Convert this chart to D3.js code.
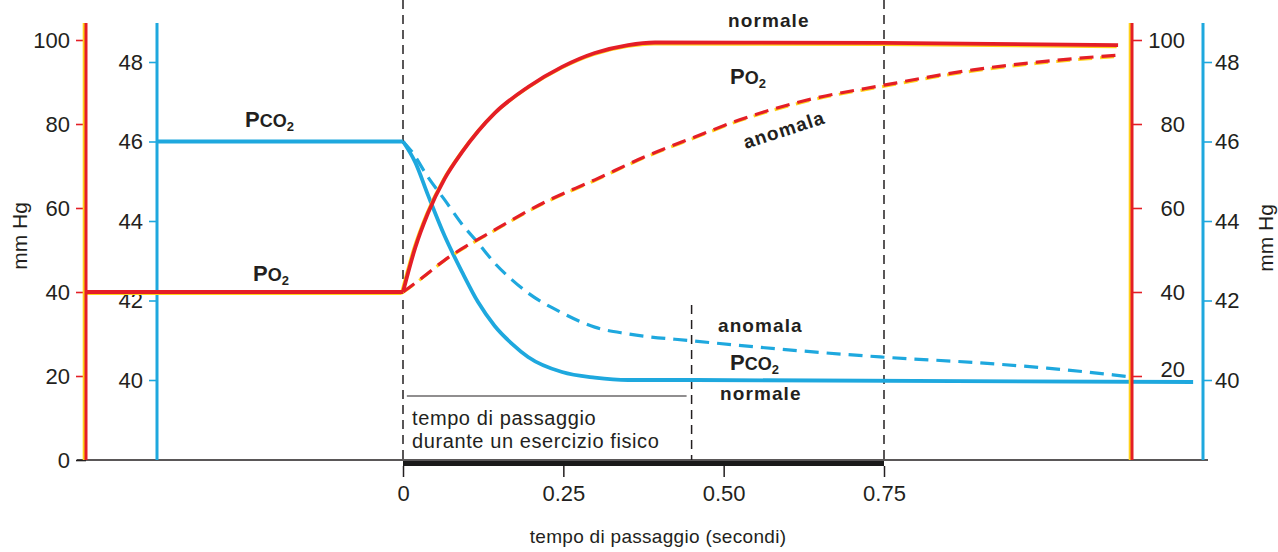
<!DOCTYPE html>
<html>
<head>
<meta charset="utf-8">
<script src="https://cdn.jsdelivr.net/npm/d3@7/dist/d3.min.js"></script>
<style>
  html, body { margin: 0; padding: 0; background: #fff; }
  svg { display: block; font-family: "Liberation Sans", Arial, Helvetica, sans-serif; }
</style>
</head>
<body>
<svg id="chart" width="1278" height="552"></svg>
<script>
// Tempo di passaggio in secondi; pressioni parziali in mm Hg
const timeTicks = [0, 0.25, 0.50, 0.75];
const po2Ticks = [0, 20, 40, 60, 80, 100];
const pco2Ticks = [40, 42, 44, 46, 48];

// PO2 normale (rosso continuo), con il tratto venoso prima dell'ingresso nel capillare
const po2Normale = [
  [-0.494, 40], [0, 40], [0.019, 50.5], [0.039, 58.8], [0.065, 67.0], [0.092, 73.3],
  [0.143, 82.6], [0.195, 88.8], [0.248, 93.6], [0.299, 96.9], [0.351, 98.8],
  [0.393, 99.4], [0.75, 99.3], [1.115, 98.8]
];
// PO2 anomala (rosso tratteggiato)
const po2Anomala = [
  [0, 40], [0.019, 42.1], [0.065, 47.6], [0.143, 54.8], [0.221, 61.4], [0.299, 66.7],
  [0.377, 72.2], [0.455, 76.9], [0.525, 81.0], [0.630, 85.7], [0.752, 89.3],
  [0.889, 92.9], [0.993, 94.8], [1.115, 96.4]
];
// PCO2 normale (blu continuo)
const pco2Normale = [
  [-0.384, 46], [0, 46], [0.019, 45.48], [0.039, 44.65], [0.065, 43.62], [0.092, 42.72],
  [0.117, 41.96], [0.143, 41.36], [0.170, 40.91], [0.195, 40.58], [0.248, 40.20],
  [0.299, 40.06], [0.351, 40.0], [0.455, 40.0], [1.232, 39.95]
];
// PCO2 anomala (blu tratteggiato)
const pco2Anomala = [
  [0, 46], [0.014, 45.74], [0.039, 45.1], [0.065, 44.53], [0.092, 43.92], [0.117, 43.45],
  [0.143, 42.94], [0.170, 42.52], [0.195, 42.19], [0.248, 41.69], [0.299, 41.33],
  [0.351, 41.16], [0.455, 40.98], [0.744, 40.58], [0.900, 40.43], [1.004, 40.30],
  [1.107, 40.13], [1.134, 40.08]
];
// Fine del tempo di passaggio durante l'esercizio fisico
const exerciseTransit = 0.45;

const RED = "#e41e26", YELLOW = "#ffd21a", BLUE = "#1ea8de", INK = "#231f20";

const svg = d3.select("#chart");

const x = d3.scaleLinear().domain([0, 0.75]).range([403, 884]);
const yR = d3.scaleLinear().domain([0, 100]).range([460, 40]);
const yB = d3.scaleLinear().domain([40, 48]).range([380, 62]);

const axisX = { redL: 86, blueL: 157, redR: 1132, blueR: 1203 };
const axisTop = 23, axisBottom = 460;

// linea di base
svg.append("line").attr("x1", 77).attr("x2", 1208).attr("y1", 460).attr("y2", 460)
  .attr("stroke", INK).attr("stroke-width", 1.3);

// barra spessa del tempo di passaggio a riposo
svg.append("rect").attr("x", x(0)).attr("y", 461).attr("width", x(0.75) - x(0)).attr("height", 5)
  .attr("fill", "#1a1a1a");

// asse orizzontale
const gx = svg.append("g").attr("transform", "translate(0,466)")
  .call(d3.axisBottom(x).tickValues(timeTicks).tickSize(11).tickPadding(8)
    .tickFormat(d => d === 0 ? "0" : d3.format(".2f")(d)));
gx.select(".domain").remove();
gx.selectAll(".tick line").attr("stroke", INK).attr("stroke-width", 1.5);
gx.selectAll(".tick text").attr("font-size", 22).attr("fill", INK).style("font-family", "inherit");

svg.append("text").attr("x", 658).attr("y", 543).attr("text-anchor", "middle")
  .attr("font-size", 19).attr("letter-spacing", 0.3).attr("fill", INK)
  .text("tempo di passaggio (secondi)");

// linee verticali tratteggiate
function vDash(t, y1, y2) {
  svg.append("line").attr("x1", x(t)).attr("x2", x(t)).attr("y1", y1).attr("y2", y2)
    .attr("stroke", INK).attr("stroke-width", 1.5).attr("stroke-dasharray", "9,6");
}
vDash(0, 0, 460);
vDash(0.75, 0, 460);
vDash(exerciseTransit, 305, 460);

// annotazione del tempo di passaggio durante esercizio
svg.append("line").attr("x1", x(0.006)).attr("x2", x(exerciseTransit) - 5).attr("y1", 396).attr("y2", 396)
  .attr("stroke", INK).attr("stroke-width", 1.2);
svg.append("text").attr("x", 412).attr("y", 425).attr("font-size", 20).attr("letter-spacing", 0.6)
  .attr("fill", INK).text("tempo di passaggio");
svg.append("text").attr("x", 412).attr("y", 448).attr("font-size", 20).attr("letter-spacing", 0.6)
  .attr("fill", INK).text("durante un esercizio fisico");

// assi verticali
function vAxisLine(xp, color, glow) {
  if (glow) {
    svg.append("line").attr("x1", xp - 1.8).attr("x2", xp - 1.8).attr("y1", axisTop).attr("y2", axisBottom)
      .attr("stroke", YELLOW).attr("stroke-width", 3);
  }
  svg.append("line").attr("x1", xp).attr("x2", xp).attr("y1", axisTop).attr("y2", axisBottom)
    .attr("stroke", color).attr("stroke-width", 3);
}

function styleAxis(g, color) {
  g.select(".domain").remove();
  g.selectAll(".tick line").attr("stroke", color).attr("stroke-width", 1.6);
  g.selectAll(".tick text").attr("font-size", 22).attr("fill", INK).style("font-family", "inherit");
}

const gRL = svg.append("g").attr("transform", `translate(${axisX.redL},0)`)
  .call(d3.axisLeft(yR).tickValues(po2Ticks).tickSize(10).tickPadding(6));
styleAxis(gRL, RED);
gRL.selectAll(".tick").filter(d => d === 0).select("line").attr("stroke", INK);

const gBL = svg.append("g").attr("transform", `translate(${axisX.blueL},0)`)
  .call(d3.axisLeft(yB).tickValues(pco2Ticks).tickSize(8).tickPadding(6));
styleAxis(gBL, BLUE);

const gRR = svg.append("g").attr("transform", `translate(${axisX.redR},0)`)
  .call(d3.axisRight(yR).tickValues(po2Ticks.filter(d => d > 0)).tickSize(10).tickPadding(6));
styleAxis(gRR, RED);
gRR.selectAll(".tick text").attr("text-anchor", "end").attr("x", 53);
// l'etichetta 20 sta sopra la curva della PCO2
gRR.selectAll(".tick").filter(d => d === 20).select("text").attr("y", -7);

const gBR = svg.append("g").attr("transform", `translate(${axisX.blueR},0)`)
  .call(d3.axisRight(yB).tickValues(pco2Ticks).tickSize(9).tickPadding(3));
styleAxis(gBR, BLUE);

// etichette mm Hg
svg.append("text").attr("transform", "translate(27,236) rotate(-90)").attr("text-anchor", "middle")
  .attr("font-size", 21).attr("fill", INK).text("mm  Hg");
svg.append("text").attr("transform", "translate(1273,238) rotate(-90)").attr("text-anchor", "middle")
  .attr("font-size", 21).attr("fill", INK).text("mm  Hg");

// curve
function pathFor(data, yScale, hasLead) {
  const lin = d3.line().x(d => x(d[0])).y(d => yScale(d[1]));
  const mono = d3.line().x(d => x(d[0])).y(d => yScale(d[1])).curve(d3.curveMonotoneX);
  return hasLead ? lin(data.slice(0, 2)) + mono(data.slice(1)) : mono(data);
}
function drawSeries(data, yScale, color, dashed, hasLead, glow) {
  const d = pathFor(data, yScale, hasLead);
  const dash = dashed ? "14,8" : null;
  if (glow) {
    svg.append("path").attr("d", d).attr("fill", "none").attr("stroke", YELLOW)
      .attr("stroke-width", dashed ? 3 : 3.4).attr("stroke-dasharray", dash)
      .attr("transform", "translate(-1.4,1.4)");
  }
  svg.append("path").attr("d", d).attr("fill", "none").attr("stroke", color)
    .attr("stroke-width", dashed ? 3.2 : 3.8).attr("stroke-dasharray", dash)
    .attr("stroke-linejoin", "round");
}

vAxisLine(axisX.blueL, BLUE, false);
vAxisLine(axisX.blueR, BLUE, false);

drawSeries(pco2Anomala, yB, BLUE, true, false, false);
drawSeries(pco2Normale, yB, BLUE, false, true, false);
drawSeries(po2Anomala, yR, RED, true, false, true);
drawSeries(po2Normale, yR, RED, false, true, true);

vAxisLine(axisX.redL, RED, true);
vAxisLine(axisX.redR, RED, true);

// etichette delle curve
function gasLabel(xp, yp, parts) {
  const t = svg.append("text").attr("x", xp).attr("y", yp).attr("fill", INK).attr("font-weight", "bold");
  t.append("tspan").attr("font-size", 22).text("P");
  t.append("tspan").attr("font-size", 18).text(parts);
  t.append("tspan").attr("font-size", 13).attr("dy", 4).text("2");
}
gasLabel(245, 127, "CO");
gasLabel(253, 281, "O");
gasLabel(730, 84, "O");
gasLabel(730, 370, "CO");

function word(xp, yp, txt, rot) {
  const t = svg.append("text").attr("fill", INK).attr("font-weight", "bold")
    .attr("font-size", 19).attr("letter-spacing", 1.1).text(txt);
  if (rot) {
    t.attr("text-anchor", "middle").attr("transform", `translate(${xp},${yp}) rotate(${rot})`);
  } else {
    t.attr("x", xp).attr("y", yp);
  }
}
word(728, 27, "normale");
word(786, 136, "anomala", -18);
word(718, 332, "anomala");
word(720, 400, "normale");
</script>
</body>
</html>
